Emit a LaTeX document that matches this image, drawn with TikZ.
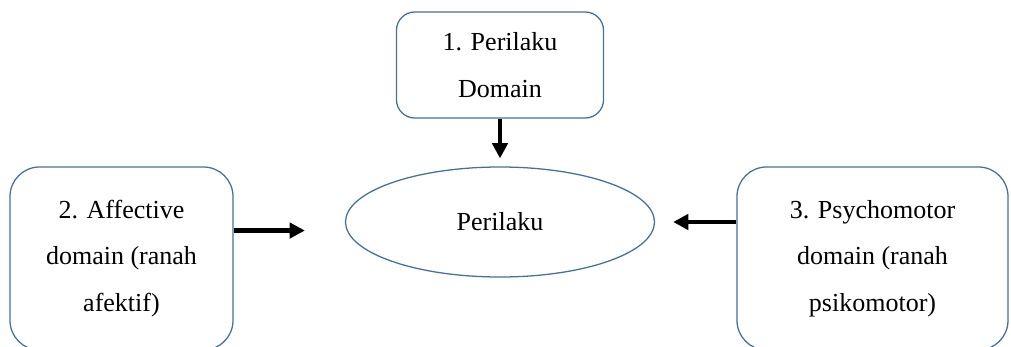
\documentclass[tikz,border=0pt]{standalone}
\usepackage{fontspec}
\setmainfont{Liberation Serif}
\usepackage{tikz}
\usetikzlibrary{arrows.meta,positioning,shapes.geometric}
\definecolor{frame}{HTML}{41719C}
\definecolor{ink}{HTML}{000000}
\tikzset{
  domainbox/.style={draw=frame, line width=0.9pt, fill=white, rounded corners=13pt,
    align=center, inner sep=0pt, font=\fontsize{18.5pt}{33pt}\selectfont},
  sidebox/.style={domainbox, rounded corners=21pt},
  centreoval/.style={ellipse, draw=frame, line width=0.9pt, fill=white, inner sep=0pt,
    minimum width=7.725cm, minimum height=2.75cm, font=\fontsize{18.5pt}{33pt}\selectfont},
  arr/.style={-{Triangle[length=3.8mm, width=3.8mm]}, line width=3pt, draw=ink}
}
\begin{document}
\begin{tikzpicture}
    \clip (0,0) rectangle (25.275,8.65);
    \fill[white] (0,0) rectangle (25.275,8.65);
    \node[centreoval] (perilaku) at (12.5,3.1) {Perilaku};
    \node[domainbox, minimum width=5.175cm, minimum height=2.65cm] (domain) at (12.5,7.025) {1. Perilaku\\Domain};
    \node[sidebox, minimum width=5.575cm, minimum height=4.575cm] (affective) at (3.0375,2.1875) {2. Affective\\domain (ranah\\afektif)};
    \node[sidebox, minimum width=6.775cm, minimum height=4.575cm] (psychomotor) at (21.8125,2.1875) {3. Psychomotor\\domain (ranah\\psikomotor)};
    \draw[arr, shorten >=0.2cm] (domain.south) -- (perilaku.north);
    \draw[arr, shorten >=1.0cm] (affective.14) -- (affective.14 -| perilaku.west);
    \draw[arr, shorten >=0.45cm] (psychomotor.west |- perilaku.east) -- (perilaku.east);
  \end{tikzpicture}
\end{document}
